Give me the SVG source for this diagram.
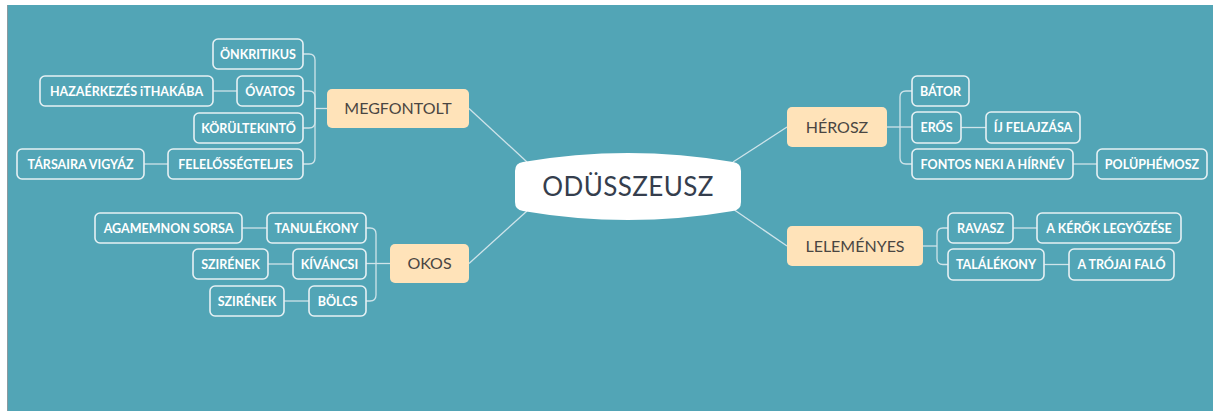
<svg xmlns="http://www.w3.org/2000/svg" width="1213" height="411" viewBox="0 0 1213 411">
<style>
.bg{fill:#52a5b6}
.leaf rect{fill:none;stroke:#e6f1f4;stroke-width:1.6}
.leaf text{font-family:Lato,"Open Sans",sans-serif;font-weight:700;font-size:12.5px;fill:#ffffff;text-anchor:middle}
.main rect{fill:#ffe3b9;stroke:none}
.main text{font-family:Lato,"Open Sans",sans-serif;font-size:16px;fill:#4a4642;text-anchor:middle}
.center path{fill:#ffffff}
.center text{font-family:Lato,"Open Sans",sans-serif;font-size:26px;fill:#353e4d;text-anchor:middle;letter-spacing:0.4px}
.conn path,.conn line{fill:none;stroke:#cfe4ea;stroke-width:1.3}
</style>
<rect x="0" y="0" width="1213" height="411" fill="#ffffff"/>
<rect class="bg" x="7" y="5" width="1206" height="406"/>
<line x1="7.5" y1="5" x2="7.5" y2="411" stroke="#8a9aa0" stroke-width="1"/>

<g id="connectors" class="conn">
  <line x1="469" y1="108.5" x2="527" y2="162"/>
  <line x1="469" y1="263.5" x2="527" y2="211"/>
  <line x1="787" y1="127" x2="733" y2="162"/>
  <line x1="787" y1="246" x2="733" y2="209"/>
  <path d="M327,108.5 H315"/>
  <path d="M315,108.5 V60 Q315,54 309,54 H303"/>
  <path d="M315,108.5 V97 Q315,91 309,91 H303"/>
  <path d="M315,108.5 V122 Q315,128 309,128 H303"/>
  <path d="M315,108.5 V158 Q315,164 309,164 H303"/>
  <line x1="213" y1="91" x2="237" y2="91"/>
  <line x1="144" y1="164" x2="168" y2="164"/>
  <path d="M390,263.5 H376"/>
  <path d="M376,263.5 V234 Q376,228 370,228 H366"/>
  <path d="M376,263.5 H366"/>
  <path d="M376,263.5 V295 Q376,301 370,301 H366"/>
  <line x1="242" y1="228" x2="267" y2="228"/>
  <line x1="268" y1="264" x2="293" y2="264"/>
  <line x1="284" y1="301" x2="309" y2="301"/>
  <path d="M887,127 H900"/>
  <path d="M900,127 V97 Q900,91 906,91 H912"/>
  <path d="M900,127 H912"/>
  <path d="M900,127 V158 Q900,164 906,164 H912"/>
  <line x1="961" y1="127.5" x2="986" y2="127.5"/>
  <line x1="1073" y1="164" x2="1097" y2="164"/>
  <path d="M923,246 H937"/>
  <path d="M937,246 V234 Q937,228 943,228 H948"/>
  <path d="M937,246 V258.5 Q937,264.5 943,264.5 H948"/>
  <line x1="1013" y1="228" x2="1037" y2="228"/>
  <line x1="1044" y1="264.5" x2="1069" y2="264.5"/>
</g>

<g id="n-center" class="center">
  <path d="M523,162 Q628,144 733,162 Q741,163 741,171 L741,202 Q741,210 733,211 Q628,229 523,211 Q515,210 515,202 L515,171 Q515,163 523,162 Z"/>
  <text x="628" y="196">ODÜSSZEUSZ</text>
</g>

<g id="n-megfontolt" class="main"><rect x="327" y="89" width="142" height="39" rx="5"/><text x="398" y="114">MEGFONTOLT</text></g>
<g id="n-okos" class="main"><rect x="390" y="244" width="79" height="39" rx="5"/><text x="429.5" y="269">OKOS</text></g>
<g id="n-herosz" class="main"><rect x="787" y="107" width="100" height="40" rx="5"/><text x="837" y="132.5">HÉROSZ</text></g>
<g id="n-lelemenyes" class="main"><rect x="787" y="226" width="136" height="40" rx="5"/><text x="855" y="251.5">LELEMÉNYES</text></g>

<g id="n-onkritikus" class="leaf"><rect x="213" y="39" width="90" height="30" rx="5"/><text x="258" y="58.5">ÖNKRITIKUS</text></g>
<g id="n-ovatos" class="leaf"><rect x="237" y="76" width="66" height="30" rx="5"/><text x="270" y="95.5">ÓVATOS</text></g>
<g id="n-hazaerkezes" class="leaf"><rect x="40" y="76" width="173" height="30" rx="5"/><text x="126.5" y="95.5">HAZAÉRKEZÉS iTHAKÁBA</text></g>
<g id="n-korultekinto" class="leaf"><rect x="194" y="113" width="109" height="30" rx="5"/><text x="248.5" y="132.5">KÖRÜLTEKINTŐ</text></g>
<g id="n-felelossegteljes" class="leaf"><rect x="168" y="149" width="135" height="30" rx="5"/><text x="235.5" y="168.5">FELELŐSSÉGTELJES</text></g>
<g id="n-tarsaira" class="leaf"><rect x="17" y="149" width="127" height="30" rx="5"/><text x="80.5" y="168.5">TÁRSAIRA VIGYÁZ</text></g>

<g id="n-agamemnon" class="leaf"><rect x="95" y="213" width="147" height="30" rx="5"/><text x="168.5" y="232.5">AGAMEMNON SORSA</text></g>
<g id="n-tanulekony" class="leaf"><rect x="267" y="213" width="99" height="30" rx="5"/><text x="316.5" y="232.5">TANULÉKONY</text></g>
<g id="n-szirenek1" class="leaf"><rect x="193" y="249" width="75" height="30" rx="5"/><text x="230.5" y="268.5">SZIRÉNEK</text></g>
<g id="n-kivancsi" class="leaf"><rect x="293" y="249" width="73" height="30" rx="5"/><text x="329.5" y="268.5">KÍVÁNCSI</text></g>
<g id="n-szirenek2" class="leaf"><rect x="210" y="286" width="74" height="30" rx="5"/><text x="247" y="305.5">SZIRÉNEK</text></g>
<g id="n-bolcs" class="leaf"><rect x="309" y="286" width="57" height="30" rx="5"/><text x="337.5" y="305.5">BÖLCS</text></g>

<g id="n-bator" class="leaf"><rect x="912" y="76" width="57" height="30" rx="5"/><text x="940.5" y="95.5">BÁTOR</text></g>
<g id="n-eros" class="leaf"><rect x="912" y="112" width="49" height="31" rx="5"/><text x="936.5" y="132">ERŐS</text></g>
<g id="n-ij" class="leaf"><rect x="986" y="112" width="94" height="31" rx="5"/><text x="1033" y="132">ÍJ FELAJZÁSA</text></g>
<g id="n-fontos" class="leaf"><rect x="912" y="149" width="161" height="30" rx="5"/><text x="992.5" y="168.5">FONTOS NEKI A HÍRNÉV</text></g>
<g id="n-poluphemosz" class="leaf"><rect x="1097" y="149" width="110" height="30" rx="5"/><text x="1152" y="168.5">POLÜPHÉMOSZ</text></g>

<g id="n-ravasz" class="leaf"><rect x="948" y="213" width="65" height="30" rx="5"/><text x="980.5" y="232.5">RAVASZ</text></g>
<g id="n-kerok" class="leaf"><rect x="1037" y="213" width="144" height="30" rx="5"/><text x="1109" y="232.5">A KÉRŐK LEGYŐZÉSE</text></g>
<g id="n-talalekony" class="leaf"><rect x="948" y="249" width="96" height="31" rx="5"/><text x="996" y="269">TALÁLÉKONY</text></g>
<g id="n-trojai" class="leaf"><rect x="1069" y="249" width="105" height="31" rx="5"/><text x="1121.5" y="269">A TRÓJAI FALÓ</text></g>
</svg>
